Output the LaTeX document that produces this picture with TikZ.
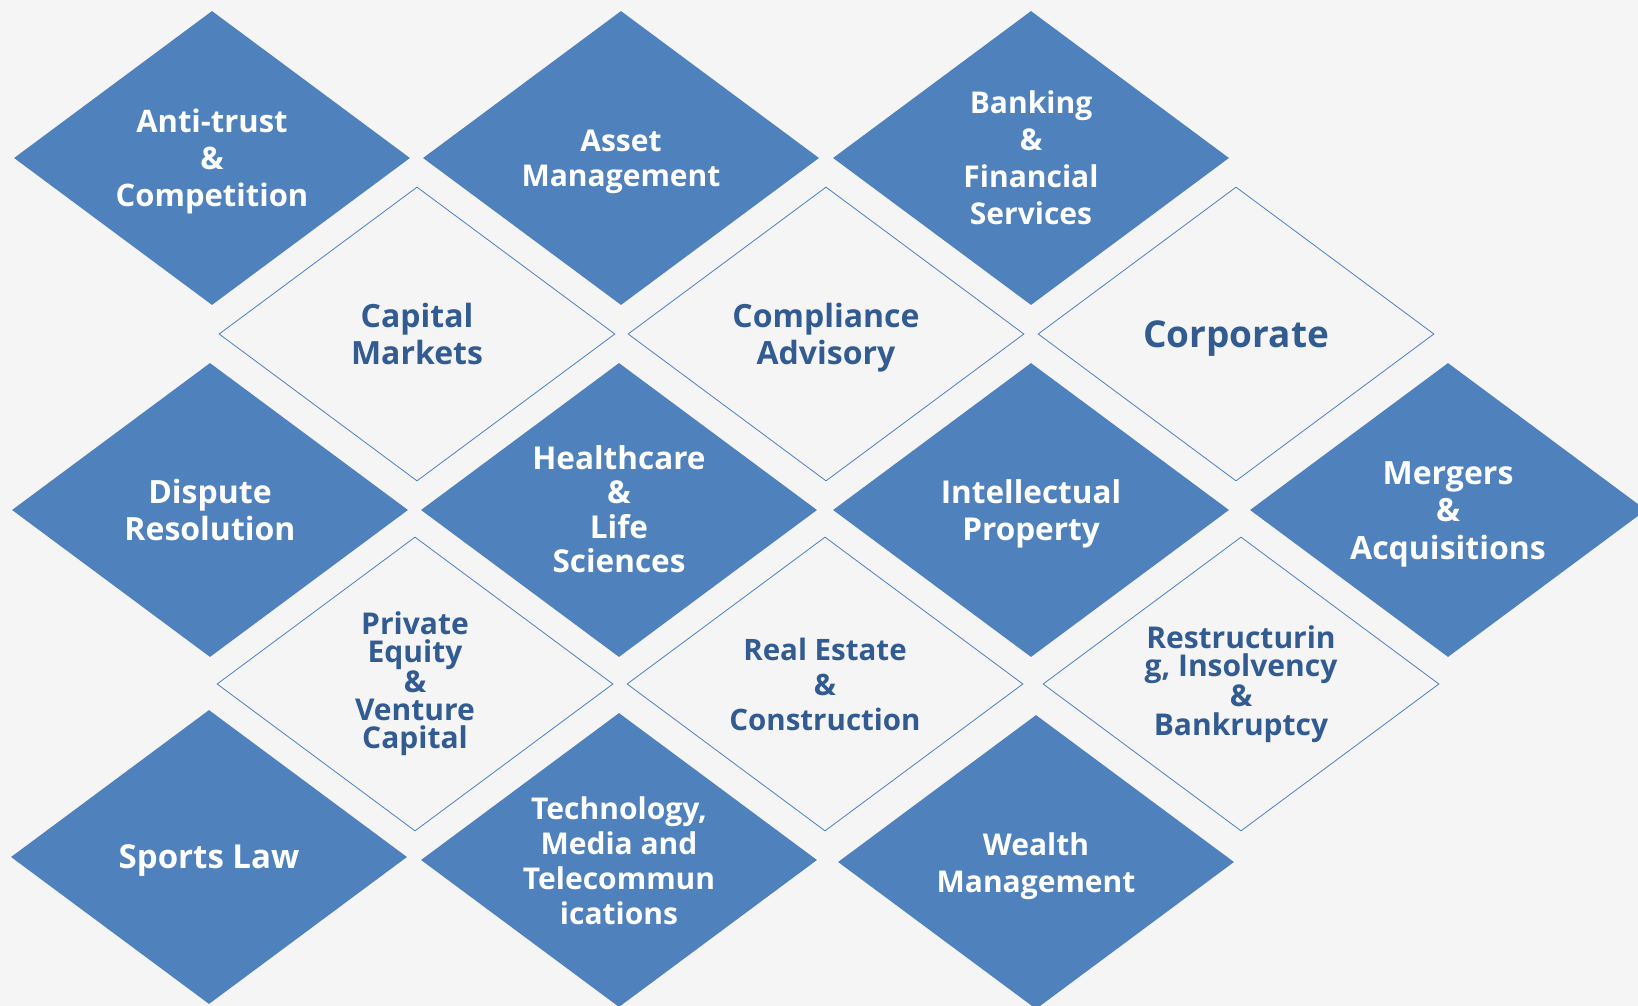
\documentclass[tikz,border=0pt]{standalone}
\usepackage{fontspec}
\setmainfont{Open Sans}
\usetikzlibrary{shapes.geometric}
\definecolor{tileblue}{HTML}{4F81BD}
\definecolor{tiletext}{RGB}{50,92,145}
\definecolor{pagegrey}{HTML}{F5F5F5}
\newcommand{\tfont}[2]{\bfseries\fontsize{#1}{#2}\selectfont}
\begin{document}
\begin{tikzpicture}[x=1pt,y=-1pt,
	tile/.style={diamond,minimum width=396pt,minimum height=294pt,aspect=1.347,inner sep=0pt},
	solidtile/.style={tile,fill=tileblue},
	opentile/.style={tile,draw=tileblue,line width=0.8pt},
	whitetext/.style={text=white,align=center,inner sep=0pt},
	bluetext/.style={text=tiletext,align=center,inner sep=0pt}]
\useasboundingbox (0,0) rectangle (1638,1006);
\clip (0,0) rectangle (1638,1006);
\fill[pagegrey] (0,0) rectangle (1638,1006);
\path
	(212,158) node[solidtile,label={[whitetext,font=\tfont{31}{37},yshift=-3pt]center:Anti-trust\\\&\\Competition}] (antitrust) {}
	(621,158) node[solidtile,label={[whitetext,font=\tfont{30}{35},yshift=-4pt]center:Asset\\Management}] (asset) {}
	(1031,158) node[solidtile,label={[whitetext,font=\tfont{30}{37}]center:Banking\\\&\\Financial\\Services}] (banking) {}
	(417,334) node[opentile,label={[bluetext,font=\tfont{32}{37}]center:Capital\\Markets}] (capital) {}
	(826,334) node[opentile,label={[bluetext,font=\tfont{32}{37},yshift=-4pt]center:Compliance\\Advisory}] (compliance) {}
	(1236,334) node[opentile,label={[bluetext,font=\tfont{37}{42},yshift=-5pt]center:Corporate}] (corporate) {}
	(210,510) node[solidtile,label={[whitetext,font=\tfont{32}{37}]center:Dispute\\Resolution}] (dispute) {}
	(619,510) node[solidtile,label={[whitetext,font=\tfont{31.5}{34.5},yshift=1pt]center:Healthcare\\\&\\Life\\Sciences}] (health) {}
	(1031,510) node[solidtile,label={[whitetext,font=\tfont{31.5}{37},yshift=-4pt]center:Intellectual\\Property}] (ip) {}
	(1448,510) node[solidtile,label={[whitetext,font=\tfont{32}{37.5},yshift=-4pt]center:Mergers\\\&\\Acquisitions}] (mergers) {}
	(415,684) node[opentile,label={[bluetext,font=\tfont{30}{28}]center:Private\\Equity\\\&\\Venture\\Capital}] (private) {}
	(825,684) node[opentile,label={[bluetext,font=\tfont{29.5}{35}]center:Real Estate\\\&\\Construction}] (realestate) {}
	(1241,684) node[opentile,label={[bluetext,font=\tfont{30}{28.5}]center:Restructurin\\g, Insolvency\\\&\\Bankruptcy}] (restruct) {}
	(209,857) node[solidtile,label={[whitetext,font=\tfont{33}{38},yshift=-4pt]center:Sports Law}] (sports) {}
	(619,860) node[solidtile,label={[whitetext,font=\tfont{30}{35},yshift=-1pt]center:Technology,\\Media and\\Telecommun\\ications}] (tech) {}
	(1036,862) node[solidtile,label={[whitetext,font=\tfont{30}{36.5},yshift=-4pt]center:Wealth\\Management}] (wealth) {};
\end{tikzpicture}
\end{document}
